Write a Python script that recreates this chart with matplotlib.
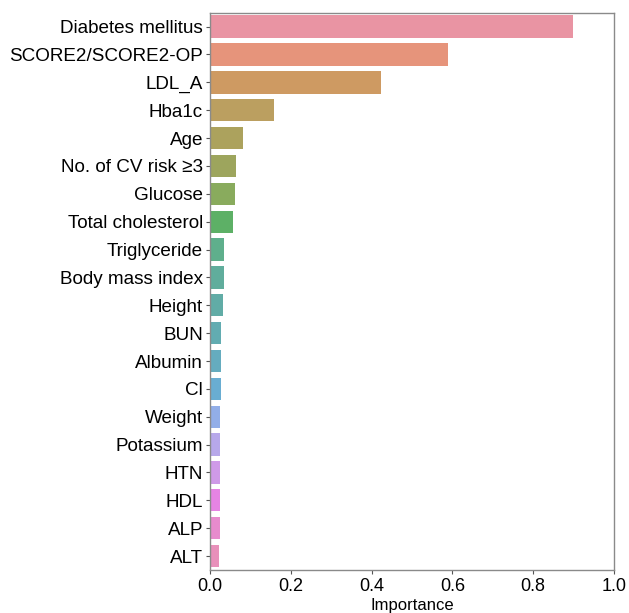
import matplotlib
matplotlib.use("Agg")
import matplotlib.pyplot as plt
import seaborn as sns

features = ["Diabetes mellitus", "SCORE2/SCORE2-OP", "LDL_A", "Hba1c", "Age",
            "No. of CV risk \u22653", "Glucose", "Total cholesterol", "Triglyceride",
            "Body mass index", "Height", "BUN", "Albumin", "Cl", "Weight",
            "Potassium", "HTN", "HDL", "ALP", "ALT"]
importance = [0.899, 0.589, 0.423, 0.158, 0.082, 0.065, 0.063, 0.058, 0.035,
              0.034, 0.031, 0.026, 0.026, 0.026, 0.025, 0.025, 0.025, 0.024,
              0.024, 0.022]
xticks = [0.0, 0.2, 0.4, 0.6, 0.8, 1.0]

plt.rcParams['font.family'] = ['Liberation Sans', 'DejaVu Sans']

colors = [sns.desaturate(c, 0.75) for c in sns.color_palette("husl", len(features))]

fig = plt.figure(figsize=(6.29, 6.13), dpi=100)
ax = fig.add_axes([210/629, 1 - 570/613, (614-210)/629, (570-12.7)/613])

ypos = list(range(len(features)))
ax.barh(ypos, importance, height=0.8, color=colors, alpha=0.85)
ax.set_yticks(ypos)
ax.set_yticklabels(features)
ax.set_ylim(len(features) - 0.5, -0.5)
ax.set_xlim(0, 1.0)
ax.set_xticks(xticks)
ax.set_xticklabels([f"{t:.1f}" for t in xticks])
ax.tick_params(axis='y', labelsize=13.6, length=3, pad=2, color='#555555')
ax.tick_params(axis='x', labelsize=13, length=3, pad=3, color='#555555')
ax.set_xlabel("Importance", fontsize=12, labelpad=2)
for s in ax.spines.values():
    s.set_color('#8a8a8a')
    s.set_linewidth(1.0)

fig.savefig("out.png", dpi=100)
